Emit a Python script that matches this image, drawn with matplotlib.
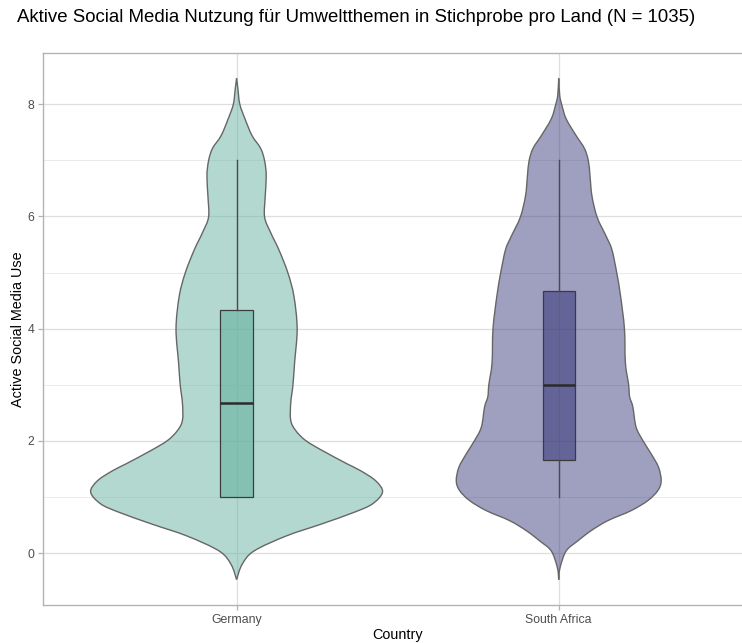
import numpy as np
import matplotlib
matplotlib.use("Agg")
import matplotlib.pyplot as plt
from matplotlib.path import Path
from matplotlib.patches import PathPatch

plt.rcParams['font.family'] = ['Liberation Sans', 'DejaVu Sans']

# ---- data -------------------------------------------------------------
countries = ["Germany", "South Africa"]
fill_colors = ["#69b3a2", "#404080"]

# violin outline: value on the y axis and the half-width of the density
germany_y = [8.46, 8.28, 8.00, 7.74, 7.44, 7.21, 6.99, 6.73, 6.37, 5.99,
             5.71, 5.41, 5.00, 4.58, 4.00, 3.39, 3.00, 2.67, 2.37, 2.19,
             2.01, 1.83, 1.59, 1.47, 1.29, 1.09, 0.88, 0.73, 0.52, 0.31,
             0.04, -0.20, -0.47]
germany_hw = [0.000, 0.004, 0.010, 0.026, 0.048, 0.075, 0.087, 0.092, 0.089, 0.087,
              0.106, 0.131, 0.159, 0.178, 0.188, 0.180, 0.175, 0.168, 0.168, 0.183,
              0.214, 0.266, 0.344, 0.385, 0.432, 0.453, 0.422, 0.365, 0.263, 0.155,
              0.054, 0.017, 0.000]

safrica_y = [8.46, 8.16, 8.00, 7.74, 7.44, 7.21, 6.99, 6.73, 6.37, 5.99,
             5.65, 5.41, 5.00, 4.58, 4.00, 3.39, 3.00, 2.79, 2.61, 2.25,
             2.01, 1.77, 1.53, 1.29, 1.12, 0.94, 0.76, 0.58, 0.40, 0.22,
             0.04, -0.26, -0.47]
safrica_hw = [0.000, 0.003, 0.009, 0.023, 0.054, 0.080, 0.092, 0.097, 0.103, 0.119,
              0.147, 0.165, 0.180, 0.192, 0.204, 0.207, 0.217, 0.220, 0.230, 0.240,
              0.261, 0.287, 0.310, 0.318, 0.308, 0.277, 0.225, 0.152, 0.100, 0.059,
              0.023, 0.004, 0.000]

# box plot summaries
whisker_low = [1.00, 1.00]
q1 = [1.00, 1.67]
median = [2.67, 3.00]
q3 = [4.33, 4.67]
whisker_high = [7.00, 7.00]

y_ticks = [0, 2, 4, 6, 8]
y_minor = [1, 3, 5, 7]

# ---- helpers ----------------------------------------------------------
def spline_segments(pts):
    """Open Catmull-Rom curve through pts as cubic Bezier segments."""
    pts = np.asarray(pts, float)
    n = len(pts)
    verts, codes = [], []
    for i in range(n - 1):
        p0 = pts[i - 1] if i > 0 else pts[i]
        p1, p2 = pts[i], pts[i + 1]
        p3 = pts[i + 2] if i + 2 < n else pts[i + 1]
        verts += [p1 + (p2 - p0) / 6.0, p2 - (p3 - p1) / 6.0, p2]
        codes += [Path.CURVE4] * 3
    return verts, codes


def violin_path(center, ys, hws):
    ys = np.asarray(ys, float)
    hws = np.asarray(hws, float)
    right = np.column_stack([center + hws, ys])[::-1]      # bottom -> top
    left = np.column_stack([center - hws, ys])             # top -> bottom
    v1, c1 = spline_segments(right)
    v2, c2 = spline_segments(left)
    verts = [right[0]] + v1 + v2 + [right[0]]
    codes = [Path.MOVETO] + c1 + c2 + [Path.CLOSEPOLY]
    return Path(verts, codes)


# ---- figure -----------------------------------------------------------
W, H = 742, 643
fig = plt.figure(figsize=(W / 100, H / 100), dpi=100)
ax = fig.add_axes([43.3 / W, (H - 604.7) / H, (752 - 43.3) / W, (604.7 - 53.3) / H])

positions = np.arange(1, len(countries) + 1)
profiles = [(germany_y, germany_hw), (safrica_y, safrica_hw)]

for pos, (ys, hws), col in zip(positions, profiles, fill_colors):
    path = violin_path(pos, ys, hws)
    ax.add_patch(PathPatch(path, facecolor=col, alpha=0.5, edgecolor='none', zorder=2))
    ax.add_patch(PathPatch(path, facecolor='none', edgecolor='#666666', lw=1.0, zorder=3))

stats = []
for i, c in enumerate(countries):
    stats.append(dict(label=c, whislo=whisker_low[i], q1=q1[i], med=median[i],
                      q3=q3[i], whishi=whisker_high[i], fliers=[]))

bp = ax.bxp(stats, positions=positions, widths=0.1, patch_artist=True,
            showcaps=False, showfliers=False, manage_ticks=False, zorder=4,
            boxprops=dict(edgecolor='#3c3c3c', lw=0.9),
            whiskerprops=dict(color='#4a4a4a', lw=1.0),
            medianprops=dict(color='#2b2b2b', lw=1.8))
for patch, col in zip(bp['boxes'], fill_colors):
    patch.set_facecolor(matplotlib.colors.to_rgba(col, 0.62))

# scales
y_lo, y_hi = min(germany_y + safrica_y), max(germany_y + safrica_y)
pad = 0.05 * (y_hi - y_lo)
ax.set_ylim(y_lo - pad, y_hi + pad)
ax.set_xlim(0.4, len(countries) + 0.6)
ax.set_yticks(y_ticks)
ax.set_yticks(y_minor, minor=True)
ax.set_xticks(positions)
ax.set_xticklabels(countries)

# theme
for s in ax.spines.values():
    s.set_color('#b3b3b3')
    s.set_linewidth(1.0)
ax.set_axisbelow(True)
ax.grid(which='major', axis='both', color='#dedede', lw=0.9, zorder=0)
ax.grid(which='minor', axis='y', color='#e6e6e6', lw=0.6, zorder=0)
ax.tick_params(which='major', length=3.5, width=0.9, color='#b3b3b3',
               labelcolor='#4d4d4d', labelsize=8.8, pad=3)
ax.tick_params(which='minor', length=0)

ax.set_xlabel("Country", fontsize=10.4, color='black', labelpad=1.5)
ax.set_ylabel("Active Social Media Use", fontsize=10.4, color='black', labelpad=2)

fig.text(17 / W, 1 - 18 / H, "Aktive Social Media Nutzung für Umweltthemen in Stichprobe pro Land (N = 1035)",
         ha='left', va='center', fontsize=13.4, color='black')

fig.savefig("out.png", dpi=100)
